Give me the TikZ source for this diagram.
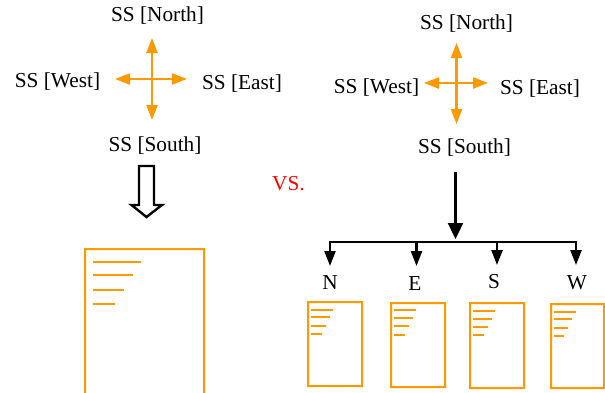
\documentclass[tikz,border=0pt]{standalone}
\usepackage{fontspec}
\setmainfont{Liberation Serif}
\usetikzlibrary{arrows.meta}
\definecolor{ssorange}{HTML}{FF9900}
\newcommand{\docframe}[4]{%
  \fill[ssorange,even odd rule] (#1-1,#2-1) rectangle (#3+1,#4+1) (#1+1,#2+1) rectangle (#3-1,#4-1);}
\newcommand{\docrule}[3]{\fill[ssorange] (#1,#3-1) rectangle (#2,#3+1);}
\tikzset{
  x=1pt,y=-1pt,
  lbl/.style={inner sep=0pt,font=\fontsize{21.3}{25}\selectfont,text=black},
  cross/.style={draw=ssorange,line width=2.3pt,{Triangle[length=15pt,width=11pt,fill=ssorange]}-{Triangle[length=15pt,width=11pt,fill=ssorange]}},
  trunk/.style={draw=black,line width=2.3pt},
  bigdrop/.style={trunk,-{Triangle[length=16pt,width=15pt]}},
  smalldrop/.style={trunk,-{Triangle[length=15pt,width=11pt]}},
}
\begin{document}
\begin{tikzpicture}
\useasboundingbox (0,0) rectangle (605,392);
% left labels
\node[lbl] (ln) at (157.5,15.5) {SS [North]};
\node[lbl] (lw) at (57.5,81.5) {SS [West]};
\node[lbl] (le) at (242,83.5) {SS [East]};
\node[lbl] (ls) at (155,145.5) {SS [South]};
% left cross
\coordinate (lct) at (152,38); \coordinate (lcb) at (152,120);
\coordinate (lcl) at (115,79); \coordinate (lcr) at (187,79);
\draw[cross] (lct) -- (lcb);
\draw[cross] (lcl) -- (lcr);
% hollow arrow
\draw[draw=black,line width=2.4pt,fill=white,line join=miter]
  (139,166) -- (154,166) -- (154,205) -- (162,205) -- (146.5,217) -- (131.5,205) -- (139,205) -- cycle;
% VS
\node[lbl,text=red] (vs) at (288.5,184) {VS.};
% left doc
\docframe{85}{249}{204}{396}
\docrule{93}{141}{262}
\docrule{93}{133}{275}
\docrule{93}{124}{290}
\docrule{93}{115}{304}
% right labels
\node[lbl] (rn) at (466.5,23.5) {SS [North]};
\node[lbl] (rw) at (376.5,87.5) {SS [West]};
\node[lbl] (re) at (540,88.5) {SS [East]};
\node[lbl] (rs) at (464.5,147.5) {SS [South]};
% right cross
\coordinate (rct) at (456.5,43); \coordinate (rcb) at (456.5,124);
\coordinate (rcl) at (424,83); \coordinate (rcr) at (488,83);
\draw[cross] (rct) -- (rcb);
\draw[cross] (rcl) -- (rcr);
% tree
\coordinate (top) at (455.5,172); \coordinate (tip) at (455.5,239);
\draw[bigdrop] (top) -- (tip);
\coordinate (bl) at (330,242); \coordinate (br) at (576,242);
\coordinate (be) at (416.5,242); \coordinate (bs) at (497,242);
\draw[trunk,line cap=rect] (bl) -- (br);
\node[lbl] (n) at (330,283) {N};
\node[lbl] (e) at (415,284) {E};
\node[lbl] (s) at (494,282) {S};
\node[lbl] (w) at (577,283) {W};
\coordinate (tn) at (330,266); \coordinate (te) at (416.5,266);
\coordinate (ts) at (497,265); \coordinate (tw) at (576,265);
\draw[smalldrop] (bl) -- (tn);
\draw[smalldrop] (be) -- (te);
\draw[smalldrop] (bs) -- (ts);
\draw[smalldrop] (br) -- (tw);
% small docs
\docframe{308}{302}{362}{386}
\docrule{311}{333}{310}\docrule{311}{330}{317}\docrule{311}{326}{326}\docrule{311}{322}{334}
\docframe{391}{303}{445}{387}
\docrule{394}{416}{310}\docrule{394}{413}{318}\docrule{394}{409}{326}\docrule{394}{405}{335}
\docframe{470}{303}{524}{388}
\docrule{473}{495}{311}\docrule{473}{492}{319}\docrule{473}{488}{327}\docrule{473}{484}{335}
\docframe{551}{304}{604}{388}
\docrule{554}{576}{312}\docrule{554}{572}{319}\docrule{554}{568}{328}\docrule{554}{564}{336}
\end{tikzpicture}
\end{document}
